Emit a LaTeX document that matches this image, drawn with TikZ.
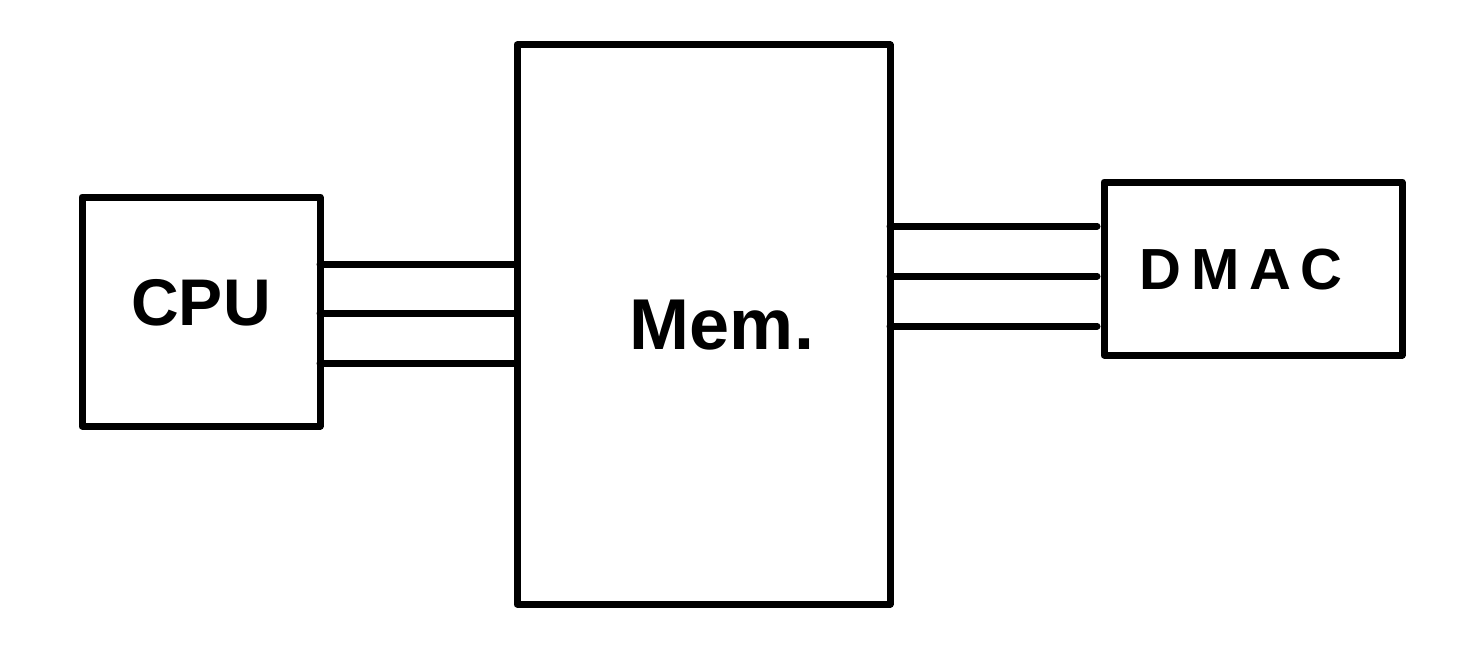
\documentclass[tikz,border=0pt]{standalone}
\usepackage{fontspec}
\setmainfont{Liberation Sans}
\begin{document}
\begin{tikzpicture}[x=1pt,y=-1pt,
  box/.style={draw=black,line width=7pt,line join=round},
  wire/.style={draw=black,line width=7pt,line cap=round},
  lbl/.style={font=\bfseries\fontsize{66}{72}\selectfont}]
\fill[white] (0,0) rectangle (1470,669);
\useasboundingbox (0,0) rectangle (1470,669);
\draw[box] (82,197) rectangle (320,426);
\draw[box] (517,45) rectangle (890,604);
\draw[box] (1104,182) rectangle (1402,355);
\coordinate (cpuE) at (320,0);
\coordinate (memW) at (517,0);
\coordinate (memE) at (890,0);
\coordinate (dmaW) at (1097,0);
\foreach \y in {264,313,363} \draw[wire] (cpuE |- 0,\y) -- (memW |- 0,\y);
\foreach \y in {226,276,326} \draw[wire] (memE |- 0,\y) -- (dmaW |- 0,\y);
\node[lbl] (cpu) at (201,303) {CPU};
\node[lbl,font=\bfseries\fontsize{72}{78}\selectfont] (mem) at (722,325) {Mem.};
\node[lbl,font=\bfseries\fontsize{58}{64}\selectfont] (dmac) at (1241,270) {D\,M\,A\,C};
\end{tikzpicture}
\end{document}
